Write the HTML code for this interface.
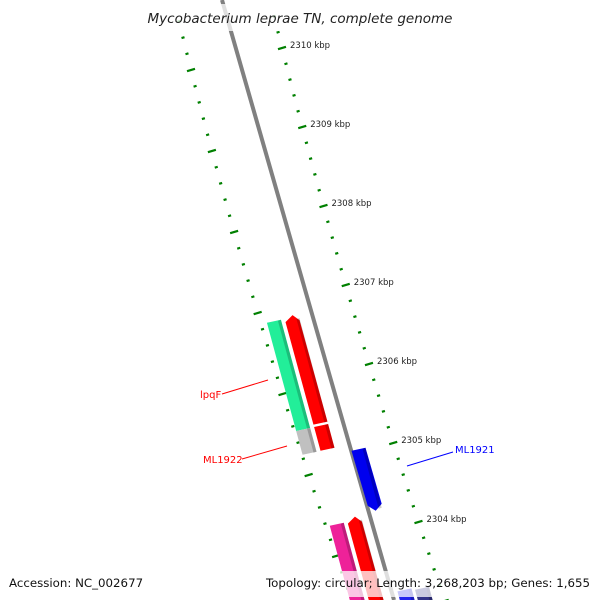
<!DOCTYPE html>
<html><head><meta charset="utf-8"><style>
body{margin:0;background:#fff}
svg text{font-family:"DejaVu Sans","Liberation Sans",sans-serif}
</style></head><body>
<svg id="map" width="600" height="600" viewBox="0 0 600 600" xmlns="http://www.w3.org/2000/svg">
<g id="ticks"></g>
<line x1="222" y1="0" x2="394" y2="600" stroke="#808080" stroke-width="4"/>
<g id="genes"></g>
<g id="labels"></g>
<rect x="0" y="4" width="600" height="27" fill="#fff" fill-opacity="0.75"/>
<text x="300" y="23" text-anchor="middle" font-size="13.5" font-style="italic" fill="#222">Mycobacterium leprae TN, complete genome</text>
<rect x="0" y="571" width="600" height="26" fill="#fff" fill-opacity="0.75"/>
<text x="9" y="587" font-size="11.8" fill="#111">Accession: NC_002677</text>
<text x="590" y="587" font-size="11.8" text-anchor="end" fill="#111">Topology: circular; Length: 3,268,203 bp; Genes: 1,655</text>
</svg>
<script>
const kbpTicks=[2310,2309,2308,2307,2306,2305,2304];
const geneNames=['lpqF','ML1922-a','ML1922','ML1922-red','ML1921','gene-pink','gene-red2','gene-blue2','gene-navy'];
const geneStart=[2306.56,2305.19,2306.58,2305.24,2304.94,2303.99,2304.03,2303.16,2303.18];
const geneEnd=[2305.19,2304.89,2305.27,2304.94,2304.18,2302.95,2302.95,2302.95,2302.95];
const geneColors=['#22ee99','#c0c0c0','#ff0000','#ff0000','#0000ee','#ee2299','#ff0000','#2222ee','#333388'];
const geneLane=[267,267,286,286,317,275,294,325,343];
const geneArrow=['none','none','up','none','down','none','up','none','none'];
const NS='http://www.w3.org/2000/svg';
function yOf(k){return 48+(2310-k)*79;}
function rightX(y){return 282+0.25*(y-48)+0.00008*(y-48)*(y-48);}
function leftX(y){return 191+0.25*(y-70)+0.0001*(y-70)*(y-70);}
function laneX(l,y){return l+0.27*(y-320);}
const tg=document.getElementById('ticks');
function tick(x,y,len,name){
 const l=document.createElementNS(NS,'line');
 l.setAttribute('x1',x-len/2);l.setAttribute('y1',y+len*0.15);l.setAttribute('x2',x+len/2);l.setAttribute('y2',y-len*0.15);
 l.setAttribute('stroke','#008000');l.setAttribute('stroke-width','2.2');
 
 
 tg.appendChild(l);
}
const kTop=2310.4,kBot=2302.6;
for(let i=0;i*0.2<=kTop-kBot+1e-6;i++){
 const k=kTop-i*0.2;const y=yOf(k);
 const major=Math.abs(k-Math.round(k))<0.01;
 tick(rightX(y),y,major?8:3,major?'major-tick':'minor-tick');
}
for(let i=-3;i<40;i++){
 const y=70+i*16.2;if(y<0||y>600)continue;
 tick(leftX(y),y,i%5===0?8:3,i%5===0?'inner-major-tick':'inner-minor-tick');
}
kbpTicks.forEach(k=>{
 const y=yOf(k);
 const t=document.createElementNS(NS,'text');
 t.setAttribute('x',rightX(y)+8);t.setAttribute('y',y);t.setAttribute('font-size','8.5');t.setAttribute('fill','#222');
 t.textContent=k+' kbp';
 
 
 tg.appendChild(t);
});
const gg=document.getElementById('genes');
geneNames.forEach((n,i)=>{
 const y1=yOf(geneStart[i]),y2=yOf(geneEnd[i]),w=14;
 const a=laneX(geneLane[i],y1),b=laneX(geneLane[i],y2);
 let pts;
 if(geneArrow[i]==='up')pts=[[a,y1+4],[a+w/2,y1-3],[a+w,y1+2],[b+w,y2],[b,y2+3]];
 else if(geneArrow[i]==='down')pts=[[a,y1+3],[a+w,y1],[b+w,y2-4],[b+w/2+1,y2+3],[b,y2-2]];
 else pts=[[a,y1+3],[a+w,y1],[b+w,y2],[b,y2+3]];
 const p=document.createElementNS(NS,'polygon');
 p.setAttribute('points',pts.map(q=>q.join(',')).join(' '));
 p.setAttribute('fill',geneColors[i]);
 
 
 gg.appendChild(p);
 const s=document.createElementNS(NS,'polygon');
 s.setAttribute('points',[[a+w-3,y1+1],[a+w,y1],[b+w,y2],[b+w-3,y2+1]].map(q=>q.join(',')).join(' '));
 s.setAttribute('fill','#000');s.setAttribute('fill-opacity','0.2');
 
 
 gg.appendChild(s);
});
const lab=[['lpqF',200,398,'#f00',222,394,268,380],['ML1922',203,463,'#f00',242,459,287,446],['ML1921',455,453,'#00f',453,452,407,466]];
const lg=document.getElementById('labels');
lab.forEach(d=>{
 const t=document.createElementNS(NS,'text');
 t.setAttribute('x',d[1]);t.setAttribute('y',d[2]);t.setAttribute('font-size','10');t.setAttribute('fill',d[3]);
 t.textContent=d[0];
 
 
 lg.appendChild(t);
 const l=document.createElementNS(NS,'line');
 l.setAttribute('x1',d[4]);l.setAttribute('y1',d[5]);l.setAttribute('x2',d[6]);l.setAttribute('y2',d[7]);l.setAttribute('stroke',d[3]);
 
 
 lg.appendChild(l);
});
</script>
</body></html>
